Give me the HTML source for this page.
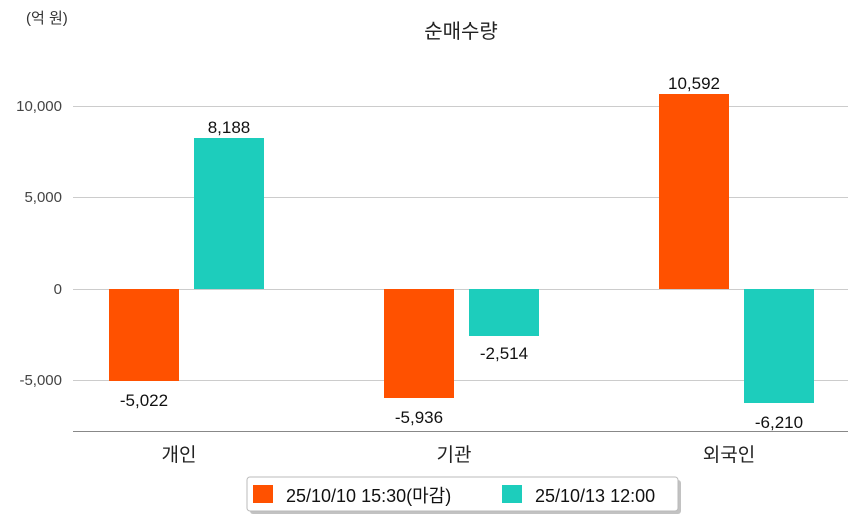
<!DOCTYPE html>
<html><head><meta charset="utf-8"><style>
body{margin:0;background:#fff;}
svg{display:block;font-family:"Liberation Sans","Noto Sans CJK KR",sans-serif;}
</style></head><body>
<svg width="858" height="520" viewBox="0 0 858 520">
<text x="26" y="23" font-size="15" fill="#333">(억 원)</text>
<text x="461" y="38" font-size="20" fill="#222" text-anchor="middle">순매수량</text>
<g stroke="#ccc" stroke-width="1">
<line x1="73" x2="848" y1="106.5" y2="106.5"/>
<line x1="73" x2="848" y1="197.5" y2="197.5"/>
<line x1="73" x2="848" y1="289.5" y2="289.5"/>
<line x1="73" x2="848" y1="380.5" y2="380.5"/>
</g>
<line x1="73" x2="848" y1="431.5" y2="431.5" stroke="#888"/>
<g font-size="15" fill="#444" text-anchor="end">
<text x="62" y="111">10,000</text>
<text x="62" y="202">5,000</text>
<text x="62" y="294">0</text>
<text x="62" y="385">-5,000</text>
</g>
<g fill="#ff5100">
<rect x="109" y="289" width="70" height="92"/>
<rect x="384" y="289" width="70" height="109"/>
<rect x="659" y="94" width="70" height="195"/>
</g>
<g fill="#1dcdbc">
<rect x="194" y="138" width="70" height="151"/>
<rect x="469" y="289" width="70" height="47"/>
<rect x="744" y="289" width="70" height="114"/>
</g>
<g font-size="17" fill="#111" text-anchor="middle">
<text x="144" y="406">-5,022</text>
<text x="229" y="133">8,188</text>
<text x="419" y="423">-5,936</text>
<text x="504" y="359">-2,514</text>
<text x="694" y="89">10,592</text>
<text x="779" y="428">-6,210</text>
</g>
<g font-size="19" fill="#222" text-anchor="middle">
<text x="179" y="461">개인</text>
<text x="454" y="461">기관</text>
<text x="729" y="461">외국인</text>
</g>
<rect x="250" y="480" width="431" height="34" rx="3" fill="#999" opacity="0.6"/>
<rect x="247" y="477" width="431" height="34" rx="3" fill="#fff" stroke="#bbb"/>
<rect x="253" y="485" width="20" height="18" fill="#ff5100"/>
<text x="286" y="502" font-size="18" fill="#111">25/10/10 15:30(마감)</text>
<rect x="502" y="485" width="20" height="18" fill="#1dcdbc"/>
<text x="535" y="502" font-size="18" fill="#111">25/10/13 12:00</text>
</svg>
</body></html>
